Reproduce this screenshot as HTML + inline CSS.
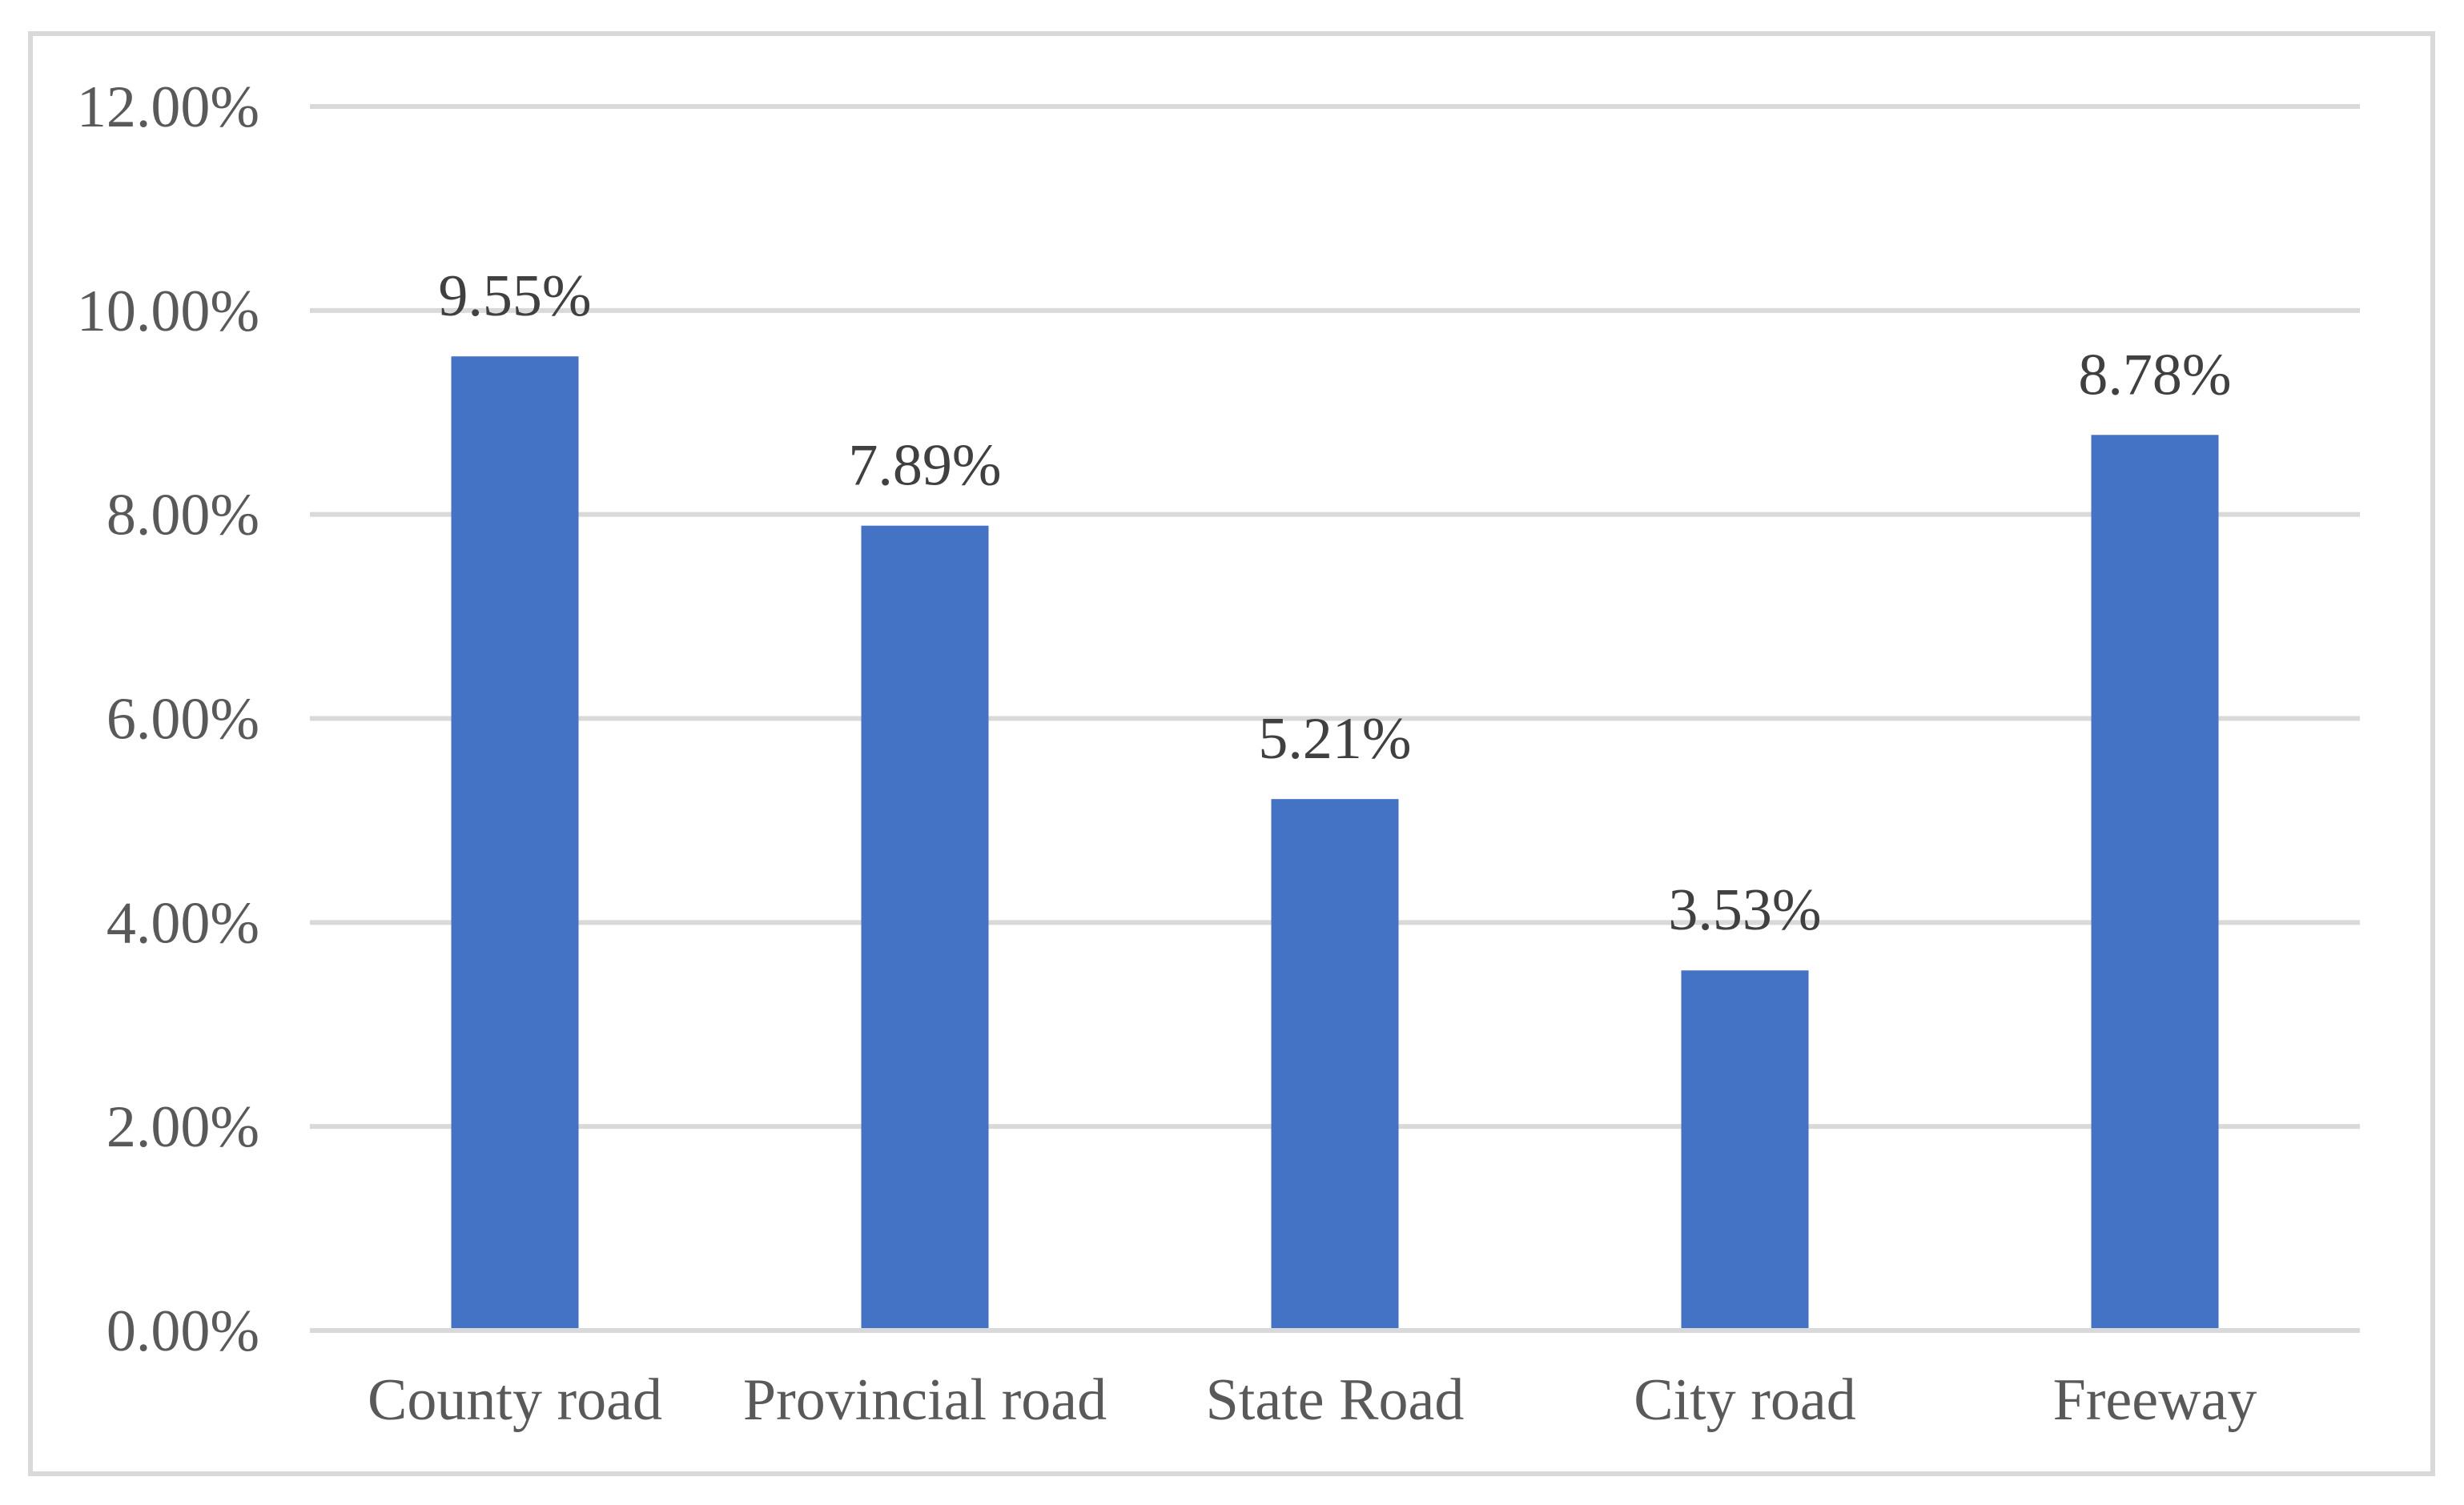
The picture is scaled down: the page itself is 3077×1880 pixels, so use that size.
<!DOCTYPE html>
<html><head><meta charset="utf-8"><style>
html,body{margin:0;padding:0;background:#fff;}
svg{display:block;}
text{font-family:"Liberation Serif",serif;}
</style></head><body>
<svg id="chart" width="3077" height="1880" viewBox="0 0 3077 1880" xmlns="http://www.w3.org/2000/svg">
<rect x="38" y="42" width="3000" height="1799" fill="#fff" stroke="#d9d9d9" stroke-width="6"/>
<g id="grid"></g>
<g id="yticks"></g>
<g id="bars"></g>
<g id="vals"></g>
<g id="xticks"></g>
</svg>
<script>
const categories = ["County road","Provincial road","State Road","City road","Freeway"];
const values = [9.55, 7.89, 5.21, 3.53, 8.78];
const valueLabels = ["9.55%","7.89%","5.21%","3.53%","8.78%"];
const yTicks = [0, 2, 4, 6, 8, 10, 12];
const yTickLabels = ["0.00%","2.00%","4.00%","6.00%","8.00%","10.00%","12.00%"];

const NS = "http://www.w3.org/2000/svg";
const plot = {left:387, right:2947, top:133, bottom:1662};
const yMax = 12;
function yScale(v){ return plot.bottom - (v / yMax) * (plot.bottom - plot.top); }
const band = (plot.right - plot.left) / categories.length;
function xCenter(i){ return plot.left + band * (i + 0.5); }
const barW = 159;
const FS = 74;

function mk(tag, attrs, parent){
  const el = document.createElementNS(NS, tag);
  for (const k in attrs) el.setAttribute(k, attrs[k]);
  parent.appendChild(el);
  return el;
}
const grid = document.getElementById('grid');
const yt = document.getElementById('yticks');
yTicks.forEach((t, i) => {
  const y = yScale(t);
  const ln = mk('line', {x1:plot.left, x2:plot.right, y1:y, y2:y, stroke:'#d9d9d9', 'stroke-width':6}, grid);
  
  
  const tx = mk('text', {x:324, y:y + 25, 'text-anchor':'end', 'font-size':FS, fill:'#595959'}, yt);
  tx.textContent = yTickLabels[i];
  
  
});
const bars = document.getElementById('bars');
const vals = document.getElementById('vals');
const xt = document.getElementById('xticks');
categories.forEach((c, i) => {
  const cx = xCenter(i);
  const top = yScale(values[i]);
  const r = mk('rect', {x:cx - barW/2, y:top, width:barW, height:plot.bottom - 3 - top, fill:'#4472c4'}, bars);
  
  
  const v = mk('text', {x:cx, y:top - 51, 'text-anchor':'middle', 'font-size':FS, fill:'#404040'}, vals);
  v.textContent = valueLabels[i];
  
  
  const t = mk('text', {x:cx, y:1773, 'text-anchor':'middle', 'font-size':FS, fill:'#595959'}, xt);
  t.textContent = c;
  
  
});
</script>
</body></html>
